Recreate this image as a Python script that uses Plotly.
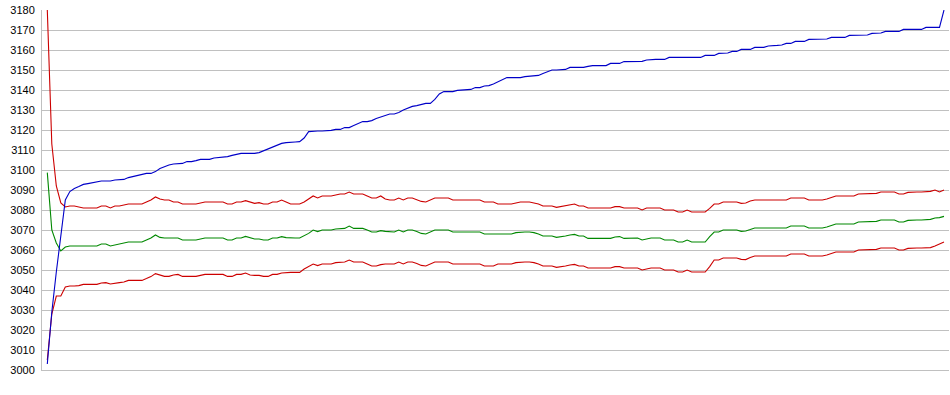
import plotly.graph_objects as go

# ---- data ----
x_index = list(range(200))

y_ticks = [3000, 3010, 3020, 3030, 3040, 3050, 3060, 3070, 3080, 3090,
           3100, 3110, 3120, 3130, 3140, 3150, 3160, 3170, 3180]

upper = [
    3180, 3113, 3092, 3083.5, 3081.5, 3082, 3082, 3081.5, 3081, 3081,
    3081, 3081, 3082, 3082, 3081, 3082, 3082, 3082.5, 3083, 3083,
    3083, 3083, 3084, 3085, 3086.5, 3085.5, 3085, 3085, 3084, 3084,
    3083, 3083, 3083, 3083, 3083.5, 3084, 3084, 3084, 3084, 3084,
    3083, 3083, 3084, 3084, 3084.7, 3084, 3083.3, 3083.7, 3083, 3083,
    3084, 3084, 3085, 3084, 3083, 3083, 3083, 3084, 3085.5, 3087,
    3086, 3087, 3087, 3087, 3087.5, 3088, 3088, 3089, 3088, 3088,
    3088, 3087, 3086, 3086, 3087, 3085.5, 3085, 3085, 3086, 3085,
    3086, 3086, 3085.3, 3084.3, 3084, 3085, 3086, 3086, 3086, 3086,
    3085, 3085, 3085, 3085, 3085, 3085, 3085, 3084, 3084, 3084,
    3083, 3083, 3083, 3083, 3083.5, 3084, 3084, 3084, 3083.5, 3083,
    3082, 3082, 3082, 3081.3, 3081.7, 3082, 3082.3, 3083, 3082, 3082,
    3081, 3081, 3081, 3081, 3081, 3081, 3081.7, 3081.7, 3081, 3081,
    3081, 3081, 3080, 3081, 3081, 3081, 3081, 3080, 3080, 3080,
    3079, 3079, 3080, 3079, 3079, 3079, 3079, 3080.8, 3083, 3083,
    3084, 3084, 3084, 3084, 3083.3, 3083.5, 3084.5, 3085, 3085, 3085,
    3085, 3085, 3085, 3085, 3085, 3086, 3086, 3086, 3086, 3085,
    3085, 3085, 3085, 3085.5, 3086.3, 3087, 3087, 3087, 3087, 3087,
    3088, 3088, 3088, 3088, 3088.3, 3089, 3089, 3089, 3089, 3088,
    3088, 3088.8, 3089, 3089, 3089, 3089, 3089.3, 3090, 3089, 3090,
]

middle = [
    3098.7, 3070, 3063.5, 3059.5, 3061.5, 3062, 3062, 3062, 3062, 3062,
    3062, 3062, 3063, 3063, 3062, 3062.5, 3063, 3063.3, 3064, 3064,
    3064, 3064, 3065, 3066, 3067.5, 3066.3, 3066, 3066, 3066, 3066,
    3065, 3065, 3065, 3065, 3065.5, 3066, 3066, 3066, 3066, 3066,
    3065, 3065, 3066, 3066, 3066.8, 3066, 3065.5, 3065.5, 3065, 3065,
    3066, 3066, 3066.7, 3066.2, 3066, 3066, 3066, 3067, 3068.3, 3070,
    3069.2, 3070, 3070, 3070, 3070.5, 3070.8, 3070.8, 3072, 3070.8, 3070.8,
    3070.8, 3070, 3069, 3069, 3069.7, 3069.3, 3069, 3069, 3070, 3069,
    3070, 3070, 3069.3, 3068.3, 3068, 3069, 3070, 3070, 3070, 3070,
    3069, 3069, 3069, 3069, 3069, 3069, 3069, 3068, 3068, 3068,
    3068, 3068, 3068, 3068, 3068.7, 3069, 3069, 3069, 3068.7, 3068,
    3067, 3067, 3067, 3066.3, 3066.5, 3067, 3067.5, 3067.8, 3067, 3067,
    3065.8, 3065.8, 3065.8, 3065.8, 3065.8, 3065.8, 3066.5, 3066.7, 3065.8, 3065.8,
    3066, 3066, 3065, 3065.5, 3066, 3066, 3066, 3065, 3065, 3065,
    3064, 3064, 3065, 3064, 3064, 3064, 3064, 3066.7, 3069, 3069,
    3070, 3070, 3070, 3070, 3069.3, 3069.5, 3070.2, 3071, 3071, 3071,
    3071, 3071, 3071, 3071, 3071, 3072, 3072, 3072, 3072, 3071,
    3071, 3071, 3071, 3071.5, 3072.2, 3073, 3073, 3073, 3073, 3073,
    3074, 3074, 3074, 3074, 3074.3, 3075, 3075, 3075, 3075, 3074,
    3074, 3074.8, 3075, 3075, 3075, 3075, 3075.3, 3076, 3076.2, 3076.8,
]

lower = [
    3005, 3028, 3037, 3037, 3041.5, 3042, 3042, 3042.2, 3042.8, 3042.8,
    3042.8, 3042.8, 3043.5, 3043.7, 3043, 3043.5, 3043.7, 3044, 3044.8, 3044.8,
    3044.8, 3044.8, 3045.7, 3046.7, 3048.2, 3047.3, 3046.8, 3046.8, 3047.5, 3047.8,
    3046.8, 3046.8, 3046.8, 3046.8, 3047.3, 3047.8, 3047.8, 3047.8, 3047.8, 3047.8,
    3046.8, 3046.8, 3047.8, 3047.8, 3048.5, 3047.5, 3047.3, 3047.3, 3046.8, 3046.8,
    3047.8, 3047.8, 3048.5, 3048.8, 3048.8, 3048.8, 3048.8, 3050.5, 3051.7, 3053,
    3052.2, 3053, 3053, 3053, 3053.7, 3054, 3054, 3055, 3054, 3054,
    3054, 3053, 3052, 3052, 3052.7, 3053, 3053, 3053, 3054, 3053,
    3054, 3054, 3053.3, 3052.3, 3052, 3053, 3054, 3054, 3054, 3054,
    3053, 3053, 3053, 3053, 3053, 3053, 3053, 3052, 3052, 3052,
    3053, 3053, 3053, 3053, 3053.7, 3054, 3054, 3054, 3053.7, 3053,
    3052, 3052, 3052, 3051.3, 3051.5, 3052, 3052.5, 3052.8, 3052, 3052,
    3051, 3051, 3051, 3051, 3051, 3051, 3051.7, 3051.7, 3051, 3051,
    3051, 3051, 3050, 3050.5, 3051, 3051, 3051, 3050, 3050, 3050,
    3049, 3049, 3050, 3049, 3049, 3049, 3049, 3051.7, 3055, 3055,
    3056, 3056, 3056, 3056, 3055.3, 3055.2, 3056.2, 3057, 3057, 3057,
    3057, 3057, 3057, 3057, 3057, 3058, 3058, 3058, 3058, 3057,
    3057, 3057, 3057, 3057.5, 3058.3, 3059, 3059, 3059, 3059, 3059,
    3060, 3060, 3060, 3060, 3060.3, 3061, 3061, 3061, 3061, 3060,
    3060, 3060.8, 3061, 3061, 3061, 3061, 3061.2, 3062, 3063, 3064,
]

blue = [
    3003, 3029, 3049, 3066, 3085, 3089.2, 3090.7, 3091.7, 3092.8, 3093.2,
    3093.7, 3094, 3094.5, 3094.5, 3094.5, 3095, 3095.3, 3095.3, 3096.2, 3096.7,
    3097, 3097.7, 3098.3, 3098.3, 3099.2, 3100.7, 3101.7, 3102.5, 3103, 3103.3,
    3103.3, 3104.2, 3104.2, 3104.7, 3105.3, 3105.3, 3105.3, 3106, 3106.3, 3106.3,
    3106.7, 3107.3, 3107.7, 3108.3, 3108.3, 3108.3, 3108.3, 3108.7, 3109.7, 3110.7,
    3111.5, 3112.3, 3113.3, 3113.7, 3113.7, 3114, 3114.2, 3116, 3119.2, 3119.5,
    3119.5, 3119.5, 3119.5, 3119.8, 3120.3, 3120.3, 3121.2, 3121.2, 3122.2, 3123.3,
    3124.2, 3124.2, 3124.7, 3125.7, 3126.5, 3127.5, 3128, 3128, 3128.8, 3130,
    3130.8, 3131.8, 3132.2, 3132.7, 3133.3, 3133.3, 3135.3, 3138, 3139.2, 3139.2,
    3139.2, 3139.8, 3140, 3140, 3140.3, 3141.2, 3141.2, 3142, 3142.2, 3143,
    3144.2, 3145.3, 3146.2, 3146.2, 3146.2, 3146.2, 3146.7, 3147, 3147, 3147.3,
    3148.3, 3149.2, 3150, 3150, 3150, 3150.3, 3151.3, 3151.3, 3151.3, 3151.3,
    3151.8, 3152.2, 3152.2, 3152.2, 3152.2, 3153.3, 3153.3, 3153.3, 3154.2, 3154.2,
    3154.3, 3154.3, 3154.3, 3155, 3155.3, 3155.3, 3155.3, 3155.3, 3156.3, 3156.3,
    3156.3, 3156.3, 3156.3, 3156.3, 3156.3, 3156.3, 3157.3, 3157.3, 3157.3, 3158.3,
    3158.3, 3158.5, 3159.3, 3159.3, 3160.3, 3160.3, 3160.3, 3161.3, 3161.3, 3161.3,
    3162, 3162.3, 3162.3, 3162.5, 3163.3, 3163.3, 3164.3, 3164.3, 3164.3, 3165.3,
    3165.3, 3165.3, 3165.3, 3165.5, 3166.3, 3166.3, 3166.3, 3166.3, 3167.3, 3167.3,
    3167.3, 3167.3, 3167.5, 3168.3, 3168.3, 3168.5, 3169.3, 3169.3, 3169.3, 3169.3,
    3170.3, 3170.3, 3170.3, 3170.3, 3170.3, 3171.3, 3171.3, 3171.3, 3171.3, 3180,
]

RED = "#CC0000"
GREEN = "#008800"
BLUE = "#0000C8"
GRID = "#C0C0C0"

fig = go.Figure()
for ys, col in [(upper, RED), (middle, GREEN), (lower, RED), (blue, BLUE)]:
    fig.add_trace(go.Scatter(x=x_index, y=ys, mode="lines",
                             line=dict(color=col, width=1.1),
                             hoverinfo="skip", showlegend=False))

fig.update_layout(
    width=950, height=395,
    margin=dict(l=42, r=1, t=10, b=25, pad=0, autoexpand=False),
    paper_bgcolor="white", plot_bgcolor="white",
    font=dict(family="Liberation Sans, Arial, sans-serif", size=11, color="#000000"),
    xaxis=dict(range=[-1.176, 200.11], showgrid=False, zeroline=False,
               showticklabels=False, ticks="", showline=True,
               linecolor=GRID, linewidth=1, automargin=False),
    yaxis=dict(range=[3000, 3180], tickmode="array", tickvals=y_ticks,
               ticktext=[str(v) for v in y_ticks], automargin=False,
               showgrid=True, gridcolor=GRID, gridwidth=1,
               zeroline=False, showline=True, linecolor=GRID, linewidth=1,
               ticks="", ticklabelstandoff=4,
               tickfont=dict(family="Liberation Sans, Arial, sans-serif", size=11, color="#000000")),
)

# remove the default 8px page margin so the 950x395 figure fills the window
fig.write_html("out.html", config={"displayModeBar": False},
               post_script="document.body.style.margin='0';document.body.style.overflow='hidden';")
